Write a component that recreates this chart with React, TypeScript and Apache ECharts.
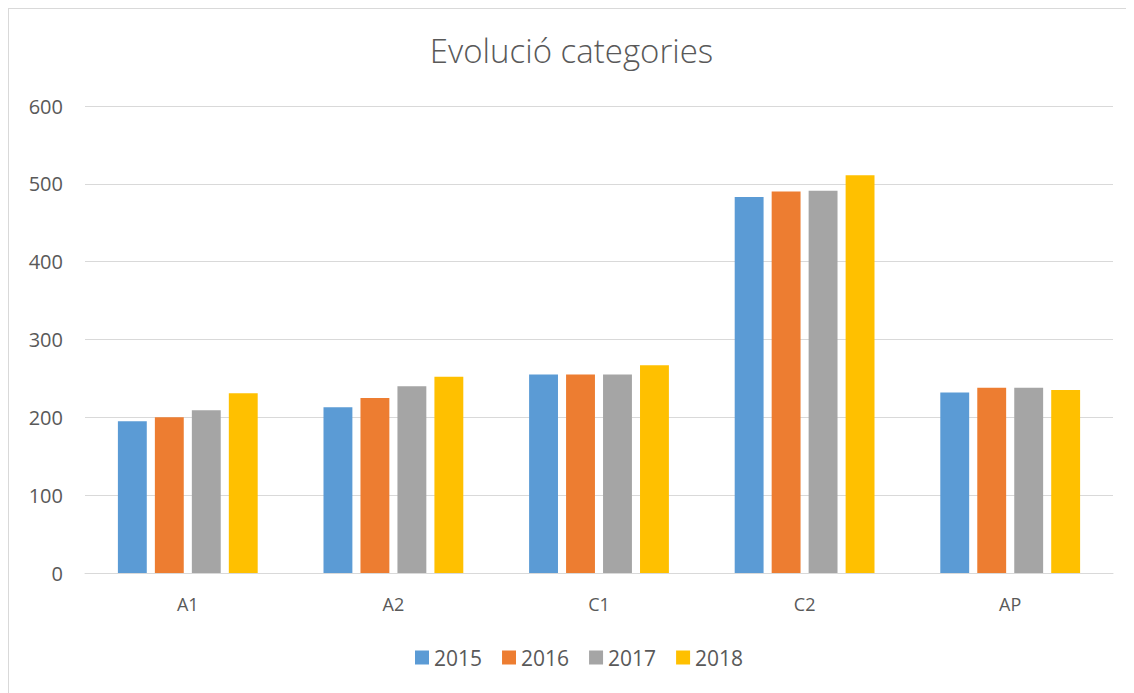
import React, { useEffect, useRef } from "react";
import * as echarts from "echarts";

const categories = ["A1", "A2", "C1", "C2", "AP"];
const seriesNames = ["2015", "2016", "2017", "2018"];
const values2015 = [195, 213, 255, 483, 232];
const values2016 = [200, 225, 255, 490, 238];
const values2017 = [209, 240, 255, 491, 238];
const values2018 = [231, 252, 267, 511, 235];
const colors = ["#5B9BD5", "#ED7D31", "#A5A5A5", "#FFC000"];
const yTicks = { min: 0, max: 600, interval: 100 };

const FONT = "'Open Sans', 'Noto Sans', sans-serif";

export default function App() {
  const ref = useRef<HTMLDivElement>(null);
  useEffect(() => {
    if (!ref.current) return;
    const chart = echarts.init(ref.current, undefined, { renderer: "svg" });
    const all = [values2015, values2016, values2017, values2018];
    chart.setOption({
      animation: false,
      color: colors,
      textStyle: { fontFamily: FONT },
      title: {
        text: "Evolució categories",
        left: "center",
        top: 20,
        textStyle: { fontFamily: FONT, fontSize: 33, fontWeight: 300, color: "#595959" },
      },
      legend: {
        data: seriesNames,
        bottom: 20,
        left: 401,
        icon: "rect",
        itemWidth: 14,
        itemHeight: 14,
        itemGap: 20,
        textStyle: { fontFamily: FONT, fontSize: 21, color: "#595959" },
      },
      grid: { left: 76, right: 21, top: 97, bottom: 120, containLabel: false },
      xAxis: {
        type: "category",
        data: categories,
        axisLine: { lineStyle: { color: "#d9d9d9", width: 1 } },
        axisTick: { show: false },
        axisLabel: { color: "#595959", fontSize: 18, fontFamily: FONT, margin: 22 },
      },
      yAxis: {
        type: "value",
        min: yTicks.min,
        max: yTicks.max,
        interval: yTicks.interval,
        axisLine: { show: false },
        axisTick: { show: false },
        splitLine: { lineStyle: { color: "#d9d9d9", width: 1 } },
        axisLabel: { color: "#595959", fontSize: 20, fontFamily: FONT, margin: 22 },
      },
      series: seriesNames.map((name, i) => ({
        name,
        type: "bar",
        data: all[i],
        barGap: "28%",
        barCategoryGap: "32%",
        itemStyle: { color: colors[i] },
      })),
    });
    return () => chart.dispose();
  }, []);
  return (
    <div
      style={{
        width: 1126,
        height: 685,
        borderTop: "1px solid #d9d9d9",
        borderLeft: "1px solid #d9d9d9",
        boxSizing: "border-box",
      }}
    >
      <div ref={ref} style={{ width: 1125, height: 684 }} />
    </div>
  );
}
